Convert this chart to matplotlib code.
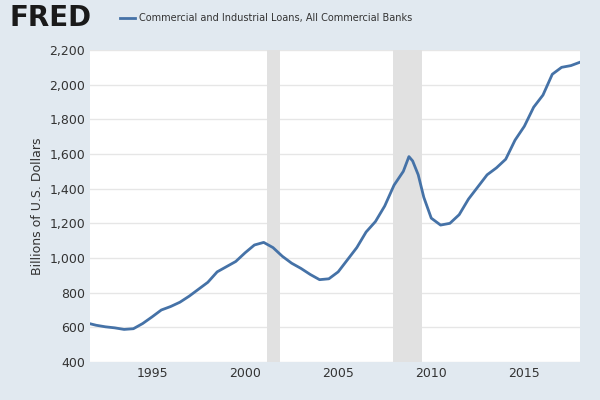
import matplotlib
matplotlib.use("Agg")
import matplotlib.pyplot as plt

years = [1991.7,1992,1992.5,1993,1993.5,1994,1994.5,1995,1995.5,1996,1996.5,1997,1997.5,1998,1998.5,1999,1999.5,2000,2000.5,2001,2001.5,2002,2002.5,2003,2003.5,2004,2004.5,2005,2005.5,2006,2006.5,2007,2007.5,2008,2008.5,2008.8,2009,2009.3,2009.6,2010,2010.5,2011,2011.5,2012,2012.5,2013,2013.5,2014,2014.5,2015,2015.5,2016,2016.5,2017,2017.5,2018]
loans = [620,612,603,597,588,592,622,660,700,720,745,780,820,860,920,950,980,1030,1075,1090,1060,1010,970,940,905,875,880,920,990,1060,1150,1210,1300,1420,1500,1585,1560,1480,1350,1230,1190,1200,1250,1340,1410,1480,1520,1570,1680,1760,1870,1940,2060,2100,2110,2130]
recessions = [(2001.2, 2001.9), (2007.95, 2009.5)]
yticks = [400,600,800,1000,1200,1400,1600,1800,2000,2200]
xticks = [1995,2000,2005,2010,2015]

bg = "#e1e9f0"
fig = plt.figure(figsize=(6,4), dpi=100, facecolor=bg)
ax = fig.add_axes([0.15, 0.095, 0.817, 0.78])
for a, b in recessions:
    ax.axvspan(a, b, color="#e1e1e1", lw=0)
ax.plot(years, loans, color="#4572a7", lw=2)
ax.set_xlim(1991.67, 2018.0)
ax.set_ylim(400, 2200)
ax.set_yticks(yticks)
ax.set_yticklabels([f"{v:,}" for v in yticks])
ax.set_xticks(xticks)
ax.grid(axis="y", color="#e6e6e6", lw=1)
ax.set_axisbelow(True)
for s in ax.spines.values():
    s.set_visible(False)
ax.tick_params(length=0, labelsize=9, colors="#333333")
ax.set_ylabel("Billions of U.S. Dollars", fontsize=9, color="#333333")
fig.text(0.015, 0.935, "FRED", fontsize=20, fontweight="bold", color="#1a1a1a")
fig.plot = None
fig.add_artist(plt.Line2D([0.2, 0.225], [0.955, 0.955], color="#4572a7", lw=2))
fig.text(0.232, 0.955, "Commercial and Industrial Loans, All Commercial Banks", fontsize=7, color="#333333", va="center")
fig.savefig("out.png", facecolor=bg)
